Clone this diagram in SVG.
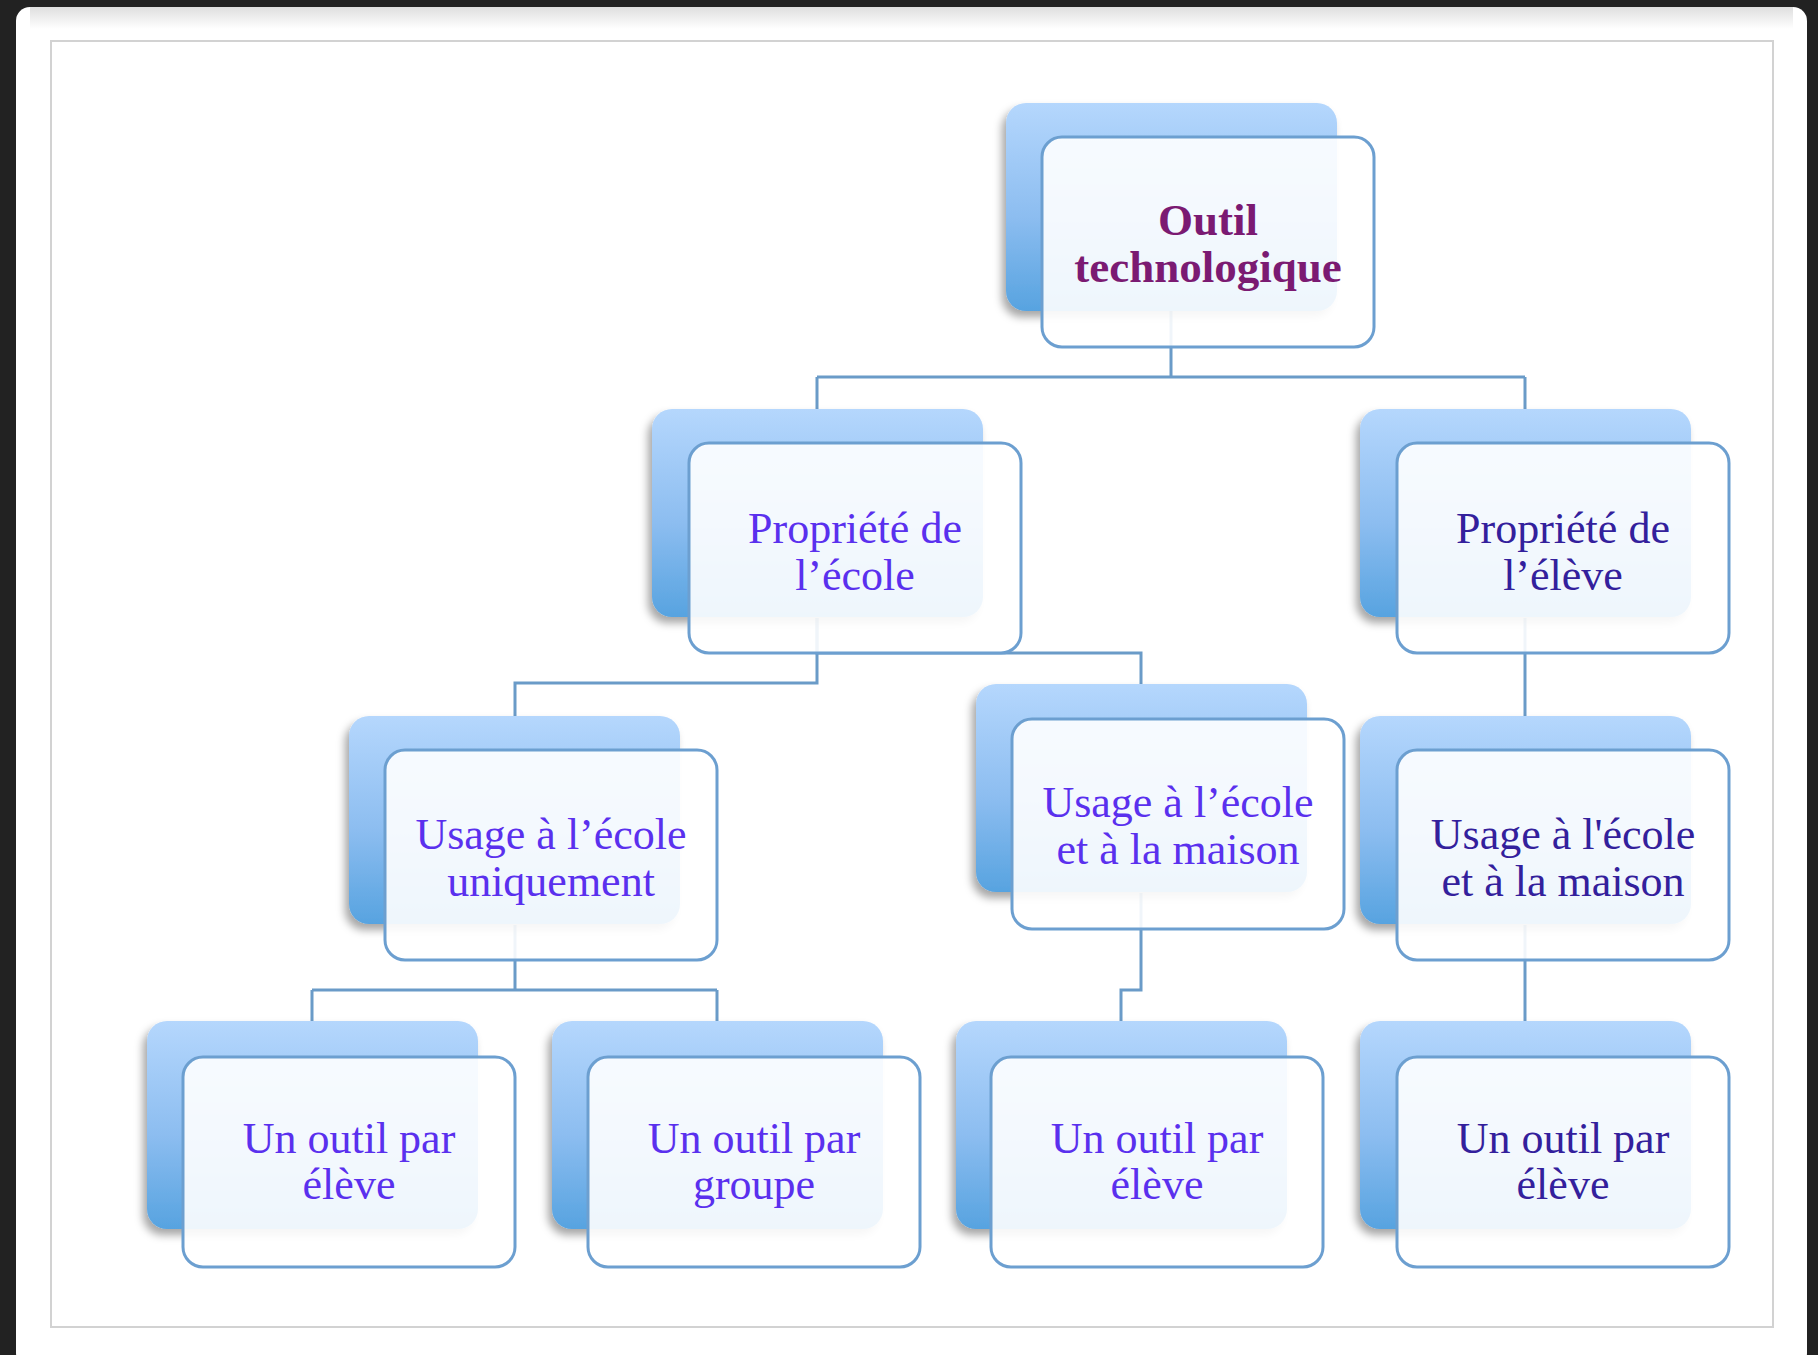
<svg xmlns="http://www.w3.org/2000/svg" width="1818" height="1355" viewBox="0 0 1818 1355">
<defs>
<linearGradient id="backGrad" x1="0" y1="0" x2="0" y2="1">
<stop offset="0" stop-color="#b5d7fd"/>
<stop offset="0.55" stop-color="#8cbdf0"/>
<stop offset="1" stop-color="#57a3e0"/>
</linearGradient>
<linearGradient id="topShade" x1="0" y1="0" x2="0" y2="1">
<stop offset="0" stop-color="#c8c8c8"/>
<stop offset="1" stop-color="#ffffff"/>
</linearGradient>
<filter id="shadow" x="-10%" y="-10%" width="120%" height="125%">
<feDropShadow dx="-4" dy="6" stdDeviation="4" flood-color="#000" flood-opacity="0.35"/>
</filter>
<filter id="soft" x="-5%" y="-5%" width="110%" height="115%">
<feDropShadow dx="0" dy="2" stdDeviation="3" flood-color="#7aa6d6" flood-opacity="0.25"/>
</filter>
</defs>
<style>
.back{fill:url(#backGrad);filter:url(#shadow)}
.front{fill:#ffffff;fill-opacity:0.9;stroke:#6c9fd0;stroke-width:3}
.conn{fill:none;stroke:#6a9bc8;stroke-width:3}
.t{font-family:"Liberation Serif","Times New Roman",serif;font-size:44px;text-anchor:middle;fill:#5a30ee}
.dark{fill:#33209c}
.title{font-weight:bold;font-size:45px;fill:#7b1a72}
</style>
<rect x="0" y="0" width="1818" height="1355" fill="#222222"/>
<rect x="16" y="7" width="1791" height="1360" rx="14" fill="#ffffff"/>
<rect x="30" y="7" width="1763" height="22" fill="url(#topShade)" opacity="0.6"/>
<rect x="51" y="41" width="1722" height="1286" fill="#ffffff" stroke="#d2d2d2" stroke-width="2"/>

<g id="connectors">
<path class="conn" d="M1171 310 V377 M817 377 H1525 M817 377 V409 M1525 377 V409"/>
<path class="conn" d="M817 618 V683 H515 V716"/>
<path class="conn" d="M817 618 V653 H1141 V684"/>
<path class="conn" d="M1525 618 V716"/>
<path class="conn" d="M515 925 V990 M312 990 H717 M312 990 V1021 M717 990 V1021"/>
<path class="conn" d="M1141 893 V990 H1121 V1021"/>
<path class="conn" d="M1525 925 V1021"/>
</g>

<g id="node-outil">
<rect class="back" x="1006" y="103" width="331" height="208" rx="20"/>
<rect class="front" x="1042" y="137" width="332" height="210" rx="20"/>
<text class="t title" x="1208" y="235">Outil</text>
<text class="t title" x="1208" y="282">technologique</text>
</g>

<g id="node-propriete-ecole">
<rect class="back" x="652" y="409" width="331" height="208" rx="20"/>
<rect class="front" x="689" y="443" width="332" height="210" rx="20"/>
<text class="t" x="855" y="543">Propriété de</text>
<text class="t" x="855" y="590">l’école</text>
</g>

<g id="node-propriete-eleve">
<rect class="back" x="1360" y="409" width="331" height="208" rx="20"/>
<rect class="front" x="1397" y="443" width="332" height="210" rx="20"/>
<text class="t dark" x="1563" y="543">Propriété de</text>
<text class="t dark" x="1563" y="590">l’élève</text>
</g>

<g id="node-usage-uniquement">
<rect class="back" x="349" y="716" width="331" height="208" rx="20"/>
<rect class="front" x="385" y="750" width="332" height="210" rx="20"/>
<text class="t" x="551" y="849">Usage à l’école</text>
<text class="t" x="551" y="896">uniquement</text>
</g>

<g id="node-usage-maison-ecole">
<rect class="back" x="976" y="684" width="331" height="208" rx="20"/>
<rect class="front" x="1012" y="719" width="332" height="210" rx="20"/>
<text class="t" x="1178" y="817">Usage à l’école</text>
<text class="t" x="1178" y="864">et à la maison</text>
</g>

<g id="node-usage-maison-eleve">
<rect class="back" x="1360" y="716" width="331" height="208" rx="20"/>
<rect class="front" x="1397" y="750" width="332" height="210" rx="20"/>
<text class="t dark" x="1563" y="849">Usage à l'école</text>
<text class="t dark" x="1563" y="896">et à la maison</text>
</g>

<g id="node-outil-eleve-1">
<rect class="back" x="147" y="1021" width="331" height="208" rx="20"/>
<rect class="front" x="183" y="1057" width="332" height="210" rx="20"/>
<text class="t" x="349" y="1153">Un outil par</text>
<text class="t" x="349" y="1199">élève</text>
</g>

<g id="node-outil-groupe">
<rect class="back" x="552" y="1021" width="331" height="208" rx="20"/>
<rect class="front" x="588" y="1057" width="332" height="210" rx="20"/>
<text class="t" x="754" y="1153">Un outil par</text>
<text class="t" x="754" y="1199">groupe</text>
</g>

<g id="node-outil-eleve-2">
<rect class="back" x="956" y="1021" width="331" height="208" rx="20"/>
<rect class="front" x="991" y="1057" width="332" height="210" rx="20"/>
<text class="t" x="1157" y="1153">Un outil par</text>
<text class="t" x="1157" y="1199">élève</text>
</g>

<g id="node-outil-eleve-3">
<rect class="back" x="1360" y="1021" width="331" height="208" rx="20"/>
<rect class="front" x="1397" y="1057" width="332" height="210" rx="20"/>
<text class="t dark" x="1563" y="1153">Un outil par</text>
<text class="t dark" x="1563" y="1199">élève</text>
</g>
</svg>
